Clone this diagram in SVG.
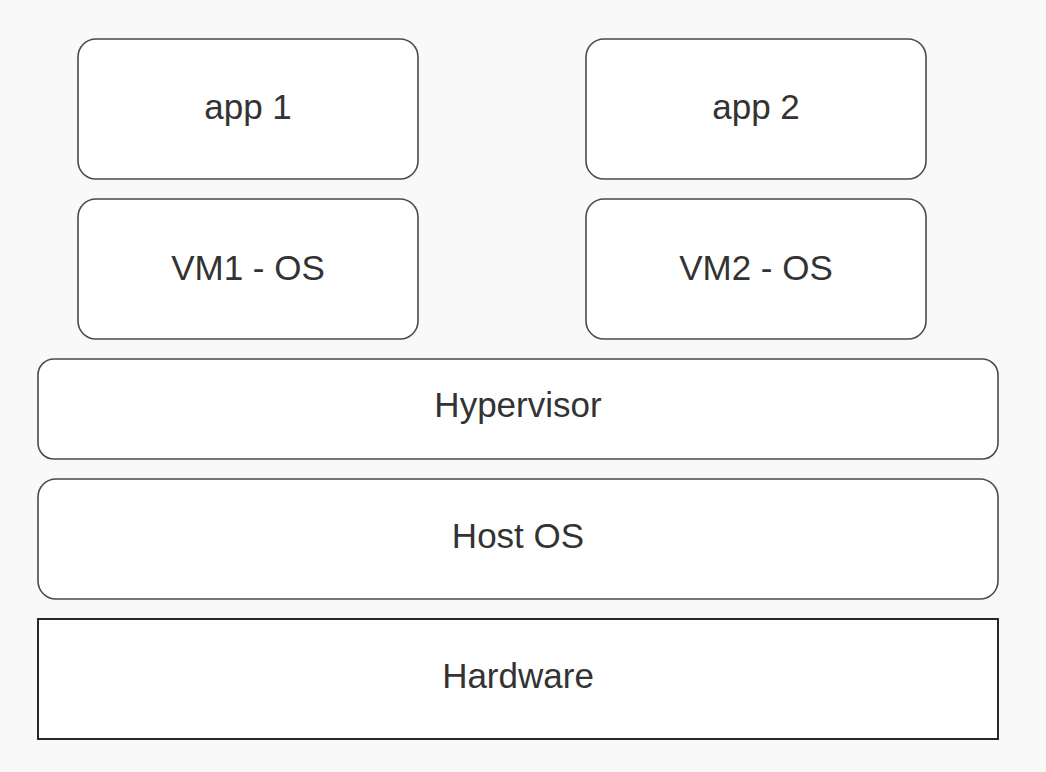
<svg xmlns="http://www.w3.org/2000/svg" width="1046" height="772" viewBox="0 0 1046 772">
<style>
.box{fill:#ffffff;stroke:#4a4a4a;stroke-width:1.6}
.hw{fill:#ffffff;stroke:#111111;stroke-width:1.8}
.t{font-family:"Liberation Sans",Arial,sans-serif;font-size:35px;fill:#333333;text-anchor:middle}
</style>
<rect width="1046" height="772" fill="#f9f9f9"/>
<g id="app1"><rect class="box" x="78" y="39" width="340" height="140" rx="18"/><text class="t" x="248" y="119">app 1</text></g>
<g id="app2"><rect class="box" x="586" y="39" width="340" height="140" rx="18"/><text class="t" x="756" y="119">app 2</text></g>
<g id="vm1"><rect class="box" x="78" y="199" width="340" height="140" rx="18"/><text class="t" x="248" y="280">VM1 - OS</text></g>
<g id="vm2"><rect class="box" x="586" y="199" width="340" height="140" rx="18"/><text class="t" x="756" y="280">VM2 - OS</text></g>
<g id="hypervisor"><rect class="box" x="38" y="359" width="960" height="100" rx="16"/><text class="t" x="518" y="417">Hypervisor</text></g>
<g id="hostos"><rect class="box" x="38" y="479" width="960" height="120" rx="18"/><text class="t" x="518" y="548">Host OS</text></g>
<g id="hardware"><rect class="hw" x="38" y="619" width="960" height="120"/><text class="t" x="518" y="688">Hardware</text></g>
<g id="connectors"></g>
</svg>
